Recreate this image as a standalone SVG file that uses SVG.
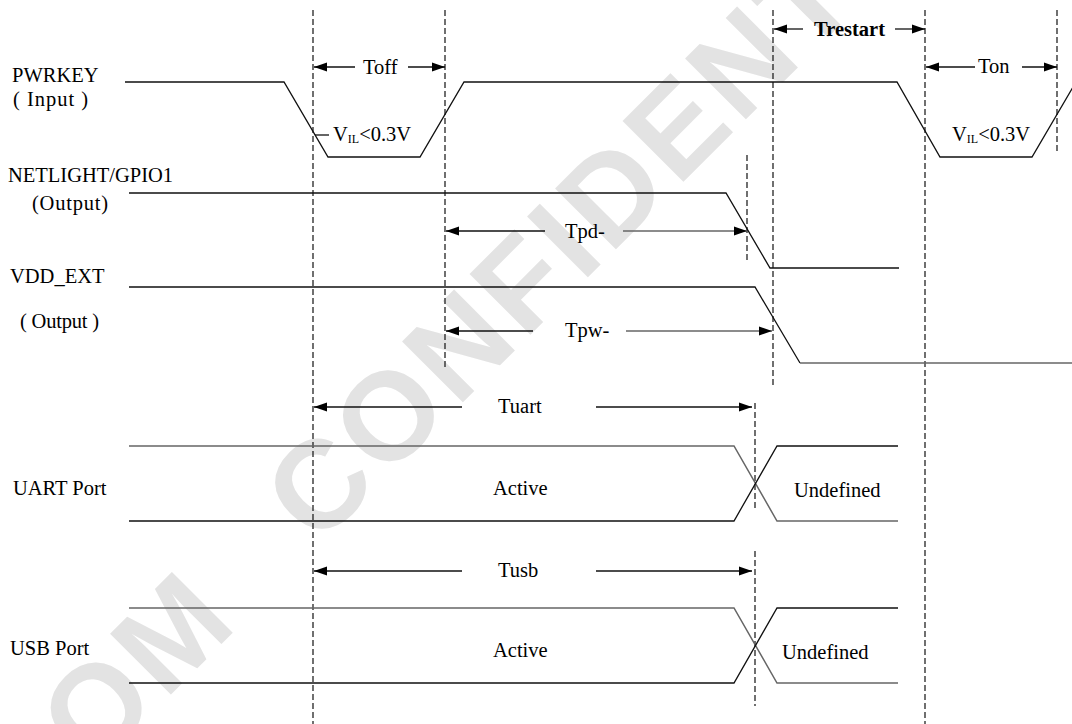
<svg xmlns="http://www.w3.org/2000/svg" width="1072" height="724" viewBox="0 0 1072 724">
<defs>
<marker id="ah" markerUnits="userSpaceOnUse" markerWidth="14" markerHeight="10" viewBox="0 0 14 10" refX="13" refY="5" orient="auto">
<path d="M0,0.5 L13,5 L0,9.5 z" fill="#000"/>
</marker>
</defs>
<style>
text{font-family:"Liberation Serif","Times New Roman",serif;font-size:20.5px;fill:#000}
.b{font-weight:bold}
.sub{font-size:12px}
.sig{fill:none;stroke:#111;stroke-width:1.3}
.gr{fill:none;stroke:#666;stroke-width:1.5}
.dash{fill:none;stroke:#111;stroke-width:1.2;stroke-dasharray:6 3}
.arr{fill:none;stroke:#111;stroke-width:1.3;marker-end:url(#ah)}
.arg{fill:none;stroke:#666;stroke-width:1.5;marker-end:url(#ah)}
.wm{font-family:"Liberation Sans",Arial,sans-serif;font-size:125px;font-weight:bold;letter-spacing:5px;fill:#e3e3e3}
</style>
<rect width="1072" height="724" fill="#fff"/>
<g id="watermark" transform="translate(92.6,772.7) rotate(-45)">
<text class="wm" x="0" y="0">OM</text>
<text class="wm" x="318" y="0">CONFIDENT</text>
</g>
<g id="guides">
<line class="dash" x1="313" y1="10" x2="313" y2="724"/>
<line class="dash" x1="445" y1="10" x2="445" y2="368"/>
<line class="dash" x1="747" y1="155" x2="747" y2="260"/>
<line class="dash" x1="773" y1="10" x2="773" y2="385"/>
<line class="dash" x1="925" y1="10" x2="925" y2="724"/>
<line class="dash" x1="1057" y1="10" x2="1057" y2="152"/>
<line class="dash" x1="755" y1="403" x2="755" y2="508"/>
<line class="dash" x1="755" y1="551" x2="755" y2="706"/>
</g>
<g id="pwrkey">
<text x="12" y="82">PWRKEY</text>
<text x="13" y="106" textLength="75" lengthAdjust="spacing">( Input )</text>
<path class="sig" d="M125,82 H284 L328,157 H420 L464,82 H897 L940,157 H1032 L1076,82"/>
<line class="sig" x1="315" y1="135" x2="329" y2="135"/>
<text x="333" y="141">V<tspan class="sub" dy="2">IL</tspan><tspan dy="-2">&lt;0.3V</tspan></text>
<text x="952" y="141">V<tspan class="sub" dy="2">IL</tspan><tspan dy="-2">&lt;0.3V</tspan></text>
</g>
<g id="netlight">
<text x="8" y="182">NETLIGHT/GPIO1</text>
<text x="32" y="210" textLength="76" lengthAdjust="spacing">(Output)</text>
<path class="sig" d="M129,193 H726 L770,268 H899"/>
</g>
<g id="vdd_ext">
<text x="10" y="283">VDD_EXT</text>
<text x="20" y="328" textLength="79" lengthAdjust="spacing">( Output )</text>
<path class="sig" d="M129,287 H755 L800,363"/>
<line class="gr" x1="800" y1="363" x2="1072" y2="363"/>
</g>
<g id="uart">
<text x="13" y="495">UART Port</text>
<path class="gr" d="M129,446 H734 L777,521 H898"/>
<path class="sig" d="M129,521 H734 L777,446 H898"/>
<text x="493" y="495">Active</text>
<text x="794" y="497">Undefined</text>
</g>
<g id="usb">
<text x="10" y="655">USB Port</text>
<path class="gr" d="M129,608 H734 L777,683 H898"/>
<path class="sig" d="M129,683 H734 L777,608 H898"/>
<text x="493" y="657">Active</text>
<text x="782" y="659">Undefined</text>
</g>
<g id="connectors">
<line class="arr" x1="355" y1="67" x2="314" y2="67"/>
<line class="arr" x1="408" y1="67" x2="445" y2="67"/>
<text x="363" y="74">Toff</text>
<line class="arr" x1="803" y1="29" x2="774" y2="29"/>
<line class="arr" x1="895" y1="29" x2="925" y2="29"/>
<text class="b" x="814" y="36">Trestart</text>
<line class="arr" x1="975" y1="67" x2="926" y2="67"/>
<line class="arr" x1="1022" y1="67" x2="1057" y2="67"/>
<text x="978" y="73">Ton</text>
<line class="arr" x1="545" y1="231" x2="446" y2="231"/>
<line class="arg" x1="623" y1="231" x2="747" y2="231"/>
<text x="565" y="238">Tpd-</text>
<line class="arr" x1="533" y1="331" x2="446" y2="331"/>
<line class="arg" x1="626" y1="331" x2="772" y2="331"/>
<text x="565" y="337">Tpw-</text>
<line class="arr" x1="462" y1="407" x2="314" y2="407"/>
<line class="arr" x1="596" y1="407" x2="752" y2="407"/>
<text x="498" y="413">Tuart</text>
<line class="arr" x1="462" y1="571" x2="314" y2="571"/>
<line class="arr" x1="596" y1="571" x2="752" y2="571"/>
<text x="498" y="577">Tusb</text>
</g>
</svg>
